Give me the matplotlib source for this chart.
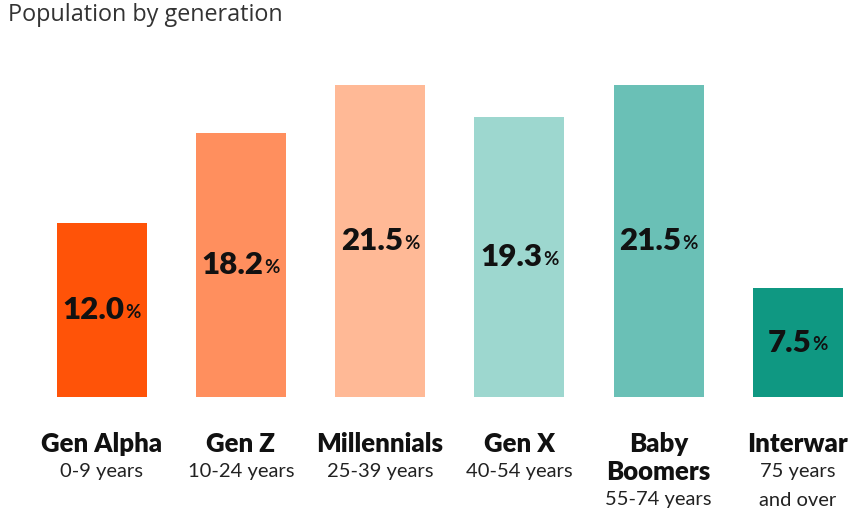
import matplotlib
matplotlib.use("Agg")
import matplotlib.pyplot as plt
from matplotlib import transforms

names = ["Gen Alpha", "Gen Z", "Millennials", "Gen X", "Baby\nBoomers", "Interwar"]
ages = ["0-9 years", "10-24 years", "25-39 years", "40-54 years", "55-74 years", "75 years\nand over"]
values = [12.0, 18.2, 21.5, 19.3, 21.5, 7.5]
colors = ["#FF5308", "#FF8F5E", "#FFB996", "#9DD7CF", "#6AC0B6", "#0F9882"]

plt.rcParams["font.family"] = ["Lato", "DejaVu Sans"]

fig = plt.figure(figsize=(8.52, 5.13), dpi=100)
ax = fig.add_axes([0, 0, 1, 1])
x = list(range(len(values)))
ax.bar(x, values, width=0.646, color=colors)
ax.set_xlim(-0.729, 5.388)
ax.set_ylim(-8.0, 27.38)
ax.axis("off")

fig.text(0.009, 0.971, "Population by generation", fontsize=16.8, color="#333333",
         family=["Open Sans", "DejaVu Sans"], va="center", ha="left")

renderer = fig.canvas.get_renderer()
trans = ax.transData
for xi, v in zip(x, values):
    num = ax.text(xi, v / 2, f"{v:.1f}", fontsize=22.5, fontweight="heavy",
                  ha="left", va="center", color="#111111")
    pct = ax.text(xi, v / 2, "%", fontsize=13.5, fontweight="bold",
                  ha="left", va="center", color="#111111")
    w1 = num.get_window_extent(renderer).width
    w2 = pct.get_window_extent(renderer).width
    total = w1 + w2 + 1
    num.set_transform(transforms.offset_copy(trans, fig=fig, x=-total / 2, y=0, units="dots"))
    pct.set_transform(transforms.offset_copy(trans, fig=fig, x=-total / 2 + w1 + 1, y=-2, units="dots"))

blend = transforms.blended_transform_factory(ax.transData, ax.transAxes)
line_h = 28 / 513
top_y = 1 - 444 / 513
for xi, name, age in zip(x, names, ages):
    name_lines = name.split("\n")
    for i, ln in enumerate(name_lines):
        ax.text(xi, top_y - i * line_h, ln, transform=blend, fontsize=18.5,
                fontweight="heavy", ha="center", va="center", color="#111111")
    for j, ln in enumerate(age.split("\n")):
        ax.text(xi, top_y - (len(name_lines) + j) * line_h, ln, transform=blend,
                fontsize=14.5, ha="center", va="center", color="#222222")

fig.savefig("out.png", dpi=100)
